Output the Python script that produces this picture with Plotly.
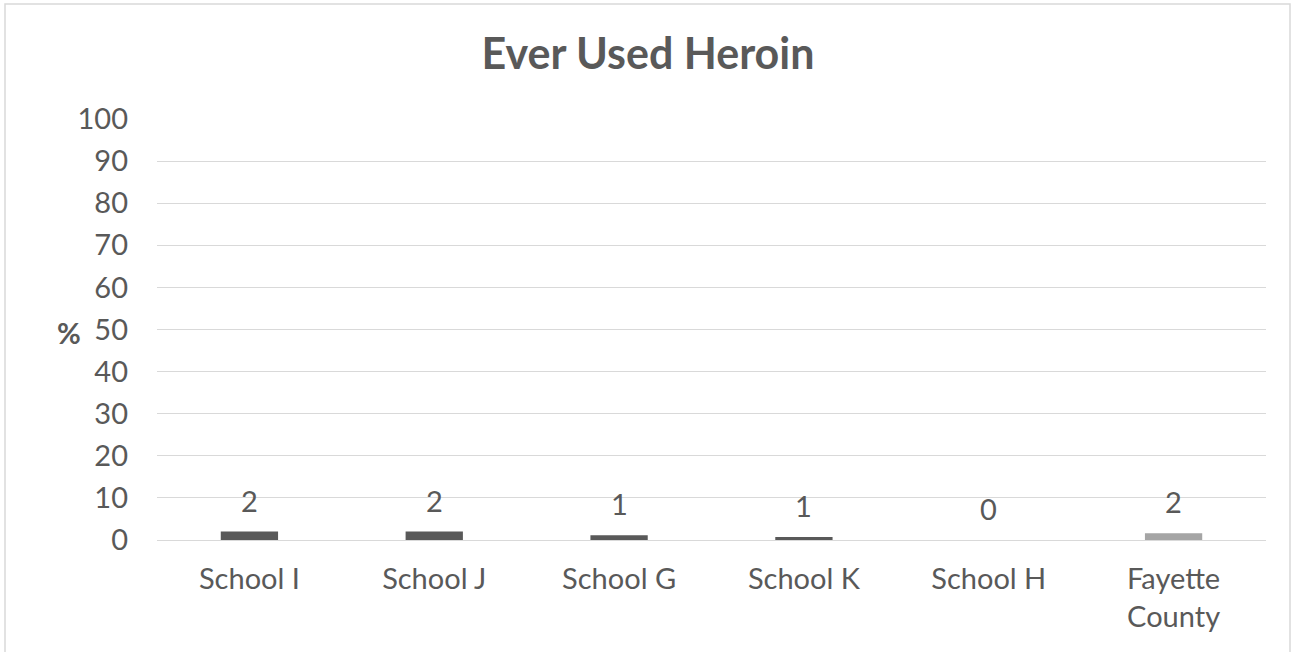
import plotly.graph_objects as go

categories = ["School I", "School J", "School G", "School K", "School H", "Fayette<br>County"]
values = [2.0, 2.0, 1.1, 0.7, 0.0, 1.6]
bar_colors = ["#595959", "#595959", "#595959", "#595959", "#595959", "#a5a5a5"]
y_ticks = list(range(0, 101, 10))

TEXT = "#595959"
GRID = "#d9d9d9"
FONT = "Lato, Open Sans, sans-serif"

# plot area in pixels: x 157..1266, y 119..540
L, R, T, B = 157, 1266, 119, 540
PW, PH = R - L, B - T

fig = go.Figure()
fig.add_trace(go.Bar(
    x=categories,
    y=values,
    marker=dict(color=bar_colors, line=dict(width=0)),
    width=0.31,
    hoverinfo="skip",
))

# value labels above each bar
for c, v in zip(categories, values):
    fig.add_annotation(
        x=c, y=v, xref="x", yref="y",
        text=f"{v:.0f}", showarrow=False,
        yanchor="bottom", yshift=12,
        font=dict(family=FONT, size=29, color=TEXT),
    )

# axis title "%"
fig.add_annotation(
    x=(55 - L) / PW, y=(B - 332) / PH, xref="paper", yref="paper",
    text="<b>%</b>", showarrow=False,
    font=dict(family=FONT, size=29, color=TEXT),
)

# chart frame
fig.add_shape(
    type="rect", xref="paper", yref="paper",
    x0=(5 - L) / PW, x1=(1290 - L) / PW,
    y0=(B - 700) / PH, y1=(B - 4) / PH,
    line=dict(color=GRID, width=1.5), layer="below",
)

fig.update_layout(
    width=1296, height=652,
    margin=dict(l=L, r=1296 - R, t=T, b=652 - B),
    paper_bgcolor="white", plot_bgcolor="white",
    showlegend=False,
    title=dict(
        text="<b>Ever Used Heroin</b>",
        x=0.5, xref="container", xanchor="center",
        y=1 - 54 / 652, yref="container", yanchor="middle",
        font=dict(family=FONT, size=43, color=TEXT),
    ),
    xaxis=dict(
        showgrid=False, showline=True, linecolor=GRID, linewidth=1,
        ticks="", tickfont=dict(family=FONT, size=29, color=TEXT),
        ticklabelstandoff=13,
    ),
    yaxis=dict(
        range=[0, 100], tickvals=y_ticks, showgrid=True, gridcolor=GRID,
        gridwidth=1, zeroline=False, showline=False, ticks="",
        tickfont=dict(family=FONT, size=29, color=TEXT),
        ticklabelstandoff=28,
    ),
)

fig.write_html("out.html")
